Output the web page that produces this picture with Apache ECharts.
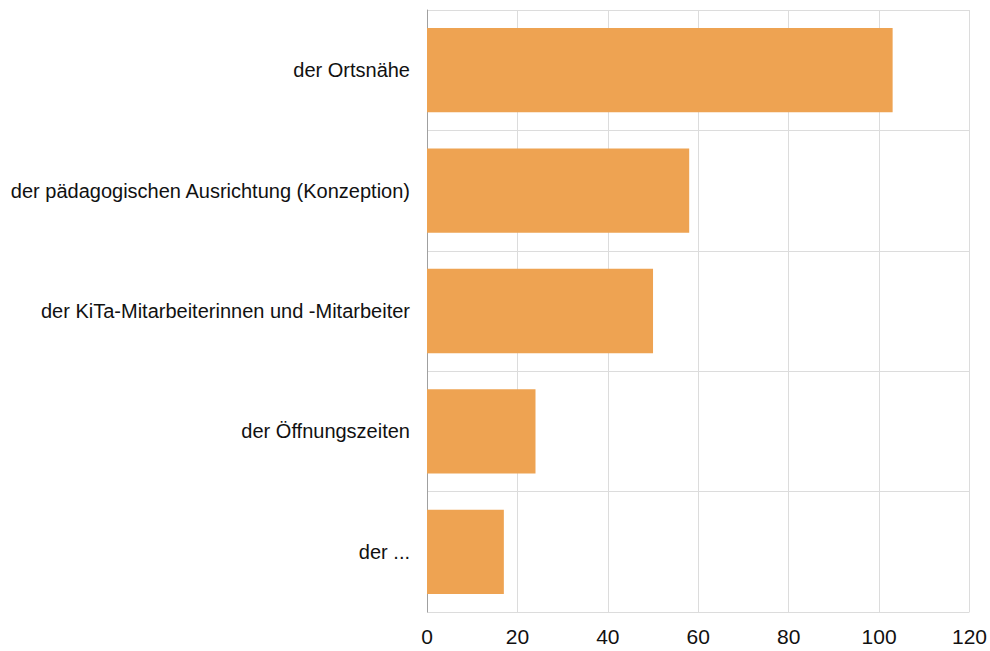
<!DOCTYPE html>
<html>
<head>
<meta charset="utf-8">
<script src="https://cdn.jsdelivr.net/npm/echarts@6/dist/echarts.min.js"></script>
<style>
  html, body { margin: 0; padding: 0; background: #fff; }
  #chart { width: 990px; height: 651px; }
</style>
</head>
<body>
<div id="chart"></div>
<script>
const categories = [
  'der Ortsnähe',
  'der pädagogischen Ausrichtung (Konzeption)',
  'der KiTa-Mitarbeiterinnen und -Mitarbeiter',
  'der Öffnungszeiten',
  'der ...'
]
const values = [103, 58, 50, 24, 17]

const chart = echarts.init(document.getElementById('chart'), null, { renderer: 'svg' })

const option = {
  animation: false,
  textStyle: { fontFamily: 'Liberation Sans, Arial, sans-serif' },
  grid: {
    top: 10,
    left: 427,
    right: 20,
    bottom: 39
  },
  xAxis: {
    type: 'value',
    min: 0,
    max: 120,
    interval: 20,
    axisLine: { show: false },
    axisTick: { show: false },
    axisLabel: {
      color: '#111',
      fontSize: 21,
      margin: 14
    },
    splitLine: {
      show: true,
      lineStyle: { color: '#dcdcdc', width: 1 }
    }
  },
  yAxis: {
    type: 'category',
    inverse: true,
    data: categories,
    axisLine: {
      show: true,
      lineStyle: { color: '#a0a0a0', width: 1 }
    },
    axisTick: { show: false },
    axisLabel: {
      color: '#111',
      fontSize: 20,
      margin: 17
    },
    splitLine: {
      show: true,
      lineStyle: { color: '#dcdcdc', width: 1 }
    }
  },
  series: [
    {
      type: 'bar',
      data: values,
      barCategoryGap: '30%',
      itemStyle: { color: '#eea352' }
    }
  ]
}

chart.setOption(option)
</script>
</body>
</html>
